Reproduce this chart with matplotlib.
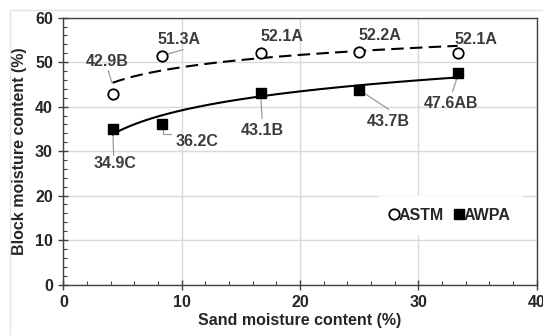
import numpy as np
import matplotlib
matplotlib.use("Agg")
import matplotlib.pyplot as plt
from matplotlib.patches import Rectangle

plt.rcParams['font.family'] = ['Liberation Sans', 'DejaVu Sans']
plt.rcParams['font.weight'] = 'bold'

# data
sand = [4.17, 8.33, 16.67, 25.0, 33.33]
astm = [42.9, 51.3, 52.1, 52.2, 52.1]
awpa = [34.9, 36.2, 43.1, 43.7, 47.6]
astm_lbl = ["42.9B", "51.3A", "52.1A", "52.2A", "52.1A"]
awpa_lbl = ["34.9C", "36.2C", "43.1B", "43.7B", "47.6AB"]

# label placement (text centre) and leader lines, in data units
astm_pos = [(3.7, 50.1), (9.75, 55.2), (18.5, 55.8), (26.8, 55.9), (34.9, 55.2)]
astm_lead = [[(3.8, 48.1), (4.1, 45.4)], [(8.8, 51.8), (10.1, 52.8)], None, None, None]
awpa_pos = [(4.4, 27.2), (11.3, 32.1), (16.8, 34.6), (27.5, 36.6), (32.8, 40.6)]
awpa_lead = [[(4.2, 33.8), (4.25, 29.1)],
             [(8.45, 35.1), (8.45, 33.8), (9.1, 33.8)],
             [(16.7, 42.0), (16.8, 37.4)],
             [(25.1, 43.6), (27.5, 39.4)],
             [(33.3, 46.6), (32.9, 43.4)]]

txt = '#3c3c3c'
fs = 11.5

fig = plt.figure(figsize=(5.43, 3.35), dpi=100)
ax = fig.add_axes([0.1166, 0.1507, 0.8715, 0.7965])

# log trend lines fitted to the points
xs = np.linspace(min(sand), max(sand), 200)
ka, ba = np.polyfit(np.log(sand), astm, 1)
kw, bw = np.polyfit(np.log(sand), awpa, 1)
ax.plot(xs, ka * np.log(xs) + ba, color='black', lw=1.5, dashes=(6, 3), zorder=3)
ax.plot(xs, kw * np.log(xs) + bw, color='black', lw=1.5, zorder=3)

# leaders
for lead in astm_lead + awpa_lead:
    if lead is None:
        continue
    lx, ly = zip(*lead)
    ax.plot(lx, ly, color='#9a9a9a', lw=0.9, zorder=2)

ax.plot(sand, astm, 'o', ms=7.5, mfc='white', mec='black', mew=1.3,
        label='ASTM', zorder=4, clip_on=False)
ax.plot(sand, awpa, 's', ms=7, mfc='black', mec='black', mew=1,
        label='AWPA', zorder=4, clip_on=False)

for (px, py), s in zip(astm_pos + awpa_pos, astm_lbl + awpa_lbl):
    ax.text(px, py, s, ha='center', va='center', fontsize=fs, color=txt,
            fontweight='bold', zorder=5)

ax.set_xlim(0, 40)
ax.set_ylim(0, 60)
ax.set_xticks(range(0, 41, 10))
ax.set_yticks(range(0, 61, 10))
ax.set_xticks(range(0, 41, 2), minor=True)
ax.set_yticks(range(0, 61, 2), minor=True)
ax.grid(True, which='major', color='#d9d9d9', lw=1)
ax.set_axisbelow(True)
ax.tick_params(which='major', direction='inout', length=7, width=1,
               color='#404040', labelsize=fs, labelcolor='#262626', pad=4)
ax.tick_params(which='minor', direction='in', length=3, width=0.8,
               color='#404040')
ax.tick_params(axis='y', which='both', right=False)
ax.tick_params(axis='x', which='both', top=False)
for sp in ax.spines.values():
    sp.set_color('#404040')
    sp.set_linewidth(1)

ax.set_xlabel('Sand moisture content (%)', fontsize=fs, fontweight='bold',
              color='#262626', labelpad=2)
ax.set_ylabel('Block moisture content (%)', fontsize=fs, fontweight='bold',
              color='#262626', labelpad=6)

leg = ax.legend(loc='center', bbox_to_anchor=(0.818, 0.26), ncol=2,
                frameon=True, fancybox=False, edgecolor='white',
                framealpha=1, fontsize=fs, handlelength=0.5,
                handletextpad=0.05, columnspacing=0.7, borderpad=0.7,
                borderaxespad=0)
for t in leg.get_texts():
    t.set_color('#262626')
    t.set_fontweight('bold')

fig.patches.append(Rectangle((10 / 543, -0.1), 1.2, 0.1 + 1 - 10 / 335,
                             transform=fig.transFigure, fill=False,
                             edgecolor='#e3e3e3', lw=1))

fig.savefig('out.png', dpi=100)
